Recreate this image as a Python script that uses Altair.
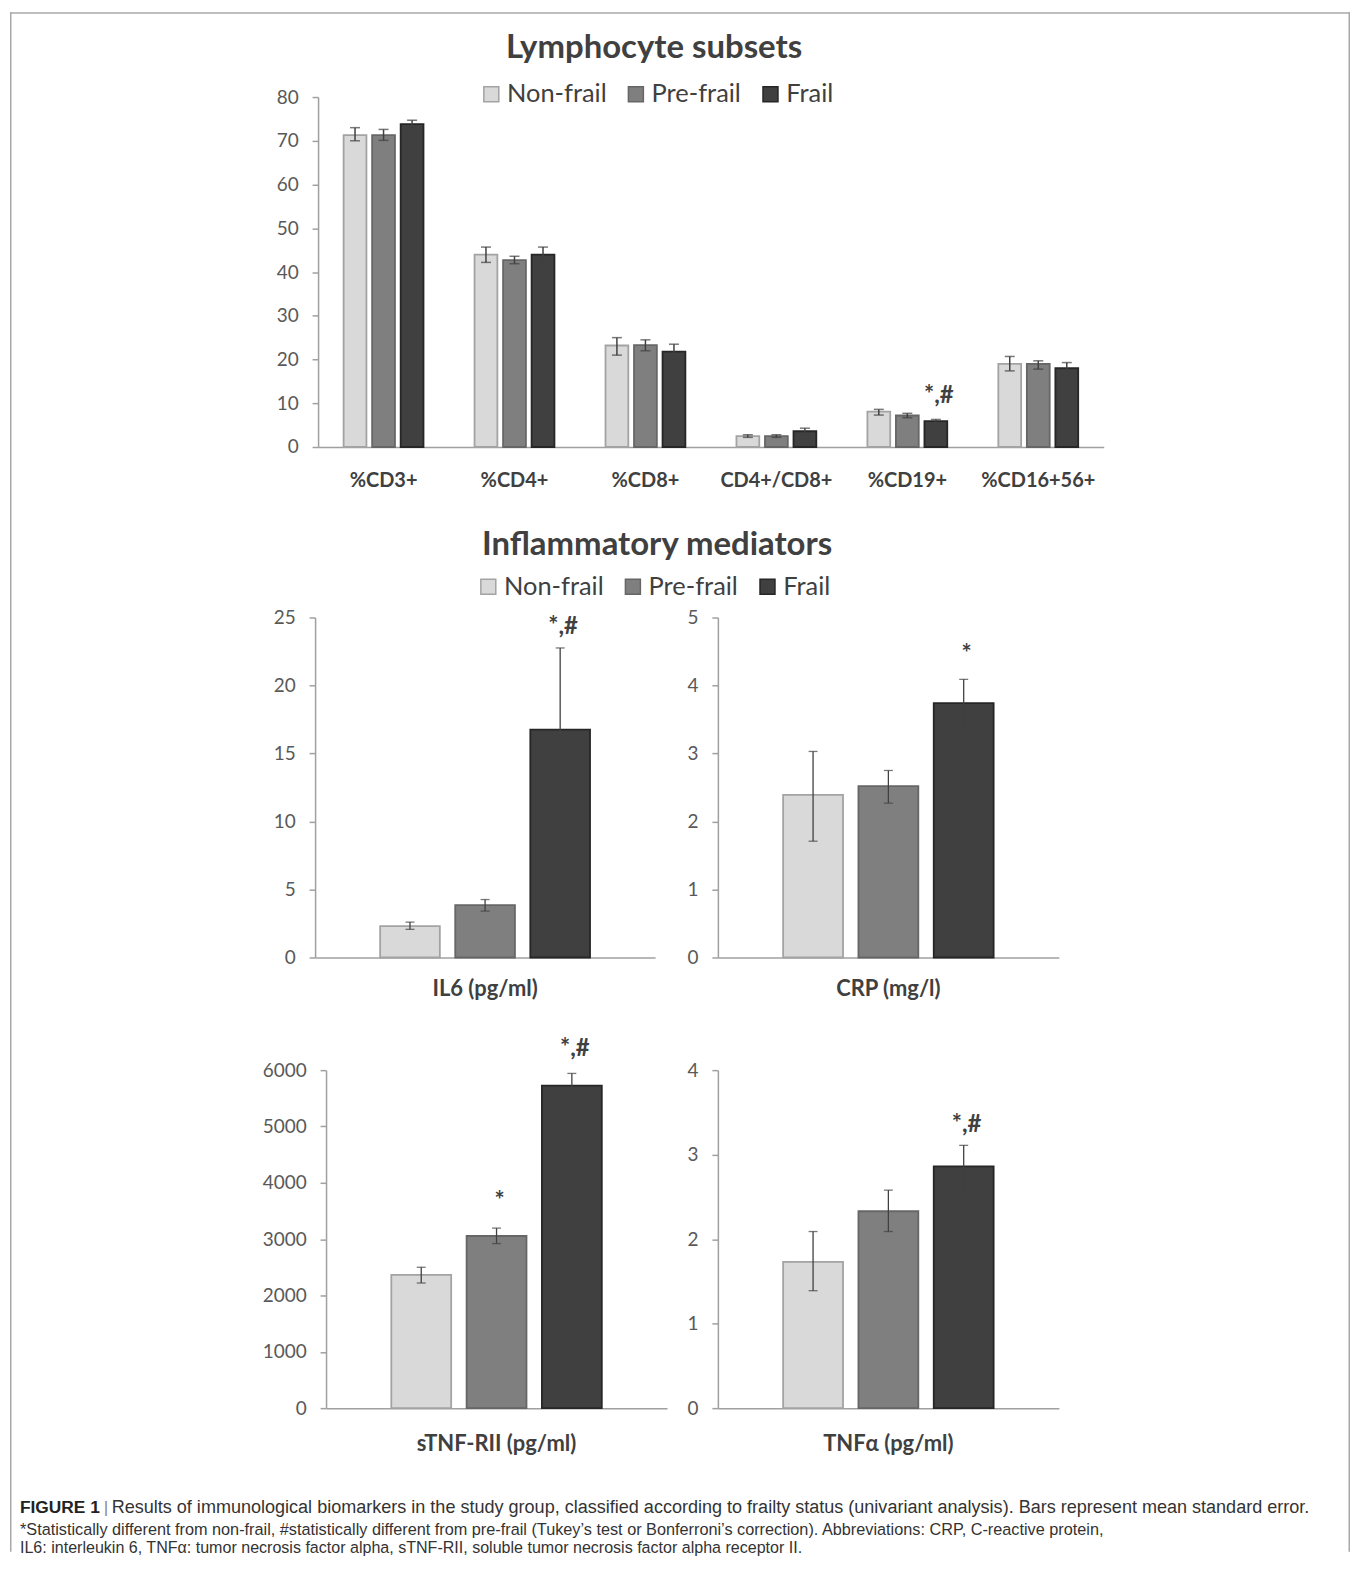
import altair as alt
import pandas as pd

FONT = "Lato"
CAP_FONT = "Liberation Sans"
AXIS_COLOR = "#a0a0a0"
TEXT_DARK = "#404040"
TICK_TEXT = "#595959"

groups = ["Non-frail", "Pre-frail", "Frail"]
fill_colors = ["#d9d9d9", "#7f7f7f", "#404040"]
edge_colors = ["#a3a3a3", "#666666", "#262626"]

# ---------------- Lymphocyte subsets ----------------
lym_title = "Lymphocyte subsets"
lym_cats = ["%CD3+", "%CD4+", "%CD8+", "CD4+/CD8+", "%CD19+", "%CD16+56+"]
lym_nonfrail = [71.3, 44.0, 23.2, 2.5, 8.1, 19.0]
lym_nonfrail_lo = [70.0, 42.2, 21.0, 2.2, 7.3, 17.4]
lym_nonfrail_hi = [73.0, 45.7, 25.0, 2.8, 8.6, 20.7]
lym_prefrail = [71.3, 42.7, 23.3, 2.5, 7.2, 19.0]
lym_prefrail_lo = [70.1, 41.9, 22.0, 2.2, 6.7, 17.8]
lym_prefrail_hi = [72.6, 43.6, 24.5, 2.8, 7.7, 19.7]
lym_frail = [73.8, 44.0, 21.8, 3.6, 5.9, 18.0]
lym_frail_lo = [72.8, 42.2, 20.2, 2.9, 5.3, 16.5]
lym_frail_hi = [74.7, 45.7, 23.5, 4.3, 6.3, 19.3]
lym_ticks = [0, 10, 20, 30, 40, 50, 60, 70, 80]
lym_note_cat = ["%CD19+"]
lym_note_group = ["Frail"]
lym_note_y = [11.6]
lym_note_text = ["*,#"]

# ---------------- Inflammatory mediators ----------------
infl_title = "Inflammatory mediators"
# values ordered Non-frail, Pre-frail, Frail
il6_label = "IL6 (pg/ml)"
il6_mean = [2.31, 3.85, 16.75]
il6_lo = [2.07, 3.41, 10.76]
il6_hi = [2.60, 4.26, 22.76]
il6_ticks = [0, 5, 10, 15, 20, 25]
il6_note_group = ["Frail"]
il6_note_y = [24.3]
il6_note_text = ["*,#"]

crp_label = "CRP (mg/l)"
crp_mean = [2.39, 2.52, 3.74]
crp_lo = [1.71, 2.27, 3.38]
crp_hi = [3.03, 2.75, 4.09]
crp_ticks = [0, 1, 2, 3, 4, 5]
crp_note_group = ["Frail"]
crp_note_y = [4.45]
crp_note_text = ["*"]

stnf_label = "sTNF-RII (pg/ml)"
stnf_mean = [2366, 3056, 5726]
stnf_lo = [2221, 2921, 5533]
stnf_hi = [2501, 3196, 5942]
stnf_ticks = [0, 1000, 2000, 3000, 4000, 5000, 6000]
stnf_note_group = ["Pre-frail", "Frail"]
stnf_note_y = [3663, 6368]
stnf_note_text = ["*", "*,#"]

tnf_label = "TNF\u03b1 (pg/ml)"
tnf_mean = [1.73, 2.33, 2.86]
tnf_lo = [1.39, 2.09, 2.59]
tnf_hi = [2.09, 2.58, 3.11]
tnf_ticks = [0, 1, 2, 3, 4]
tnf_note_group = ["Frail"]
tnf_note_y = [3.35]
tnf_note_text = ["*,#"]

caption_bold = "FIGURE 1"
caption_sep = "|"
caption_lines = [
    "Results of immunological biomarkers in the study group, classified according to frailty status (univariant analysis). Bars represent mean standard error.",
    "*Statistically different from non-frail, #statistically different from pre-frail (Tukey\u2019s test or Bonferroni\u2019s correction). Abbreviations: CRP, C-reactive protein,",
    "IL6: interleukin 6, TNF\u03b1: tumor necrosis factor alpha, sTNF-RII, soluble tumor necrosis factor alpha receptor II.",
]


def lym_frame():
    rows = []
    series = [
        (lym_nonfrail, lym_nonfrail_lo, lym_nonfrail_hi),
        (lym_prefrail, lym_prefrail_lo, lym_prefrail_hi),
        (lym_frail, lym_frail_lo, lym_frail_hi),
    ]
    for ci, c in enumerate(lym_cats):
        for gi, g in enumerate(groups):
            m, lo, hi = series[gi]
            rows.append({"cat": c, "group": g, "mean": m[ci], "lo": lo[ci], "hi": hi[ci]})
    return pd.DataFrame(rows)


def panel_frame(label, mean, lo, hi):
    return pd.DataFrame({"cat": [label] * 3, "group": groups, "mean": mean, "lo": lo, "hi": hi})


def note_frame(cats, grps, ys, texts):
    return pd.DataFrame({"cat": cats, "group": grps, "y": ys, "text": texts})


def spacer(h):
    return alt.Chart(pd.DataFrame({"s": [0]})).mark_point(
        opacity=0, size=0, strokeWidth=0).properties(width=20, height=h)


def panel(df, notes, cats, ymax, ticks, x_range, pad_inner, pad_outer, off_pad,
          label_size, label_pad, cap, rule_w, legend=None):
    xscale = alt.Scale(domain=cats, range=x_range, paddingInner=pad_inner, paddingOuter=pad_outer)
    xaxis = alt.Axis(orient="bottom", labelFont=FONT, labelFontWeight="bold", labelFontSize=label_size,
                     labelColor=TEXT_DARK, ticks=False, domainColor=AXIS_COLOR, domainWidth=1.5,
                     labelPadding=label_pad, labelAngle=0, labelLimit=0, title=None)
    x = alt.X("cat:N", sort=cats, scale=xscale, axis=xaxis, title=None)
    xo = alt.XOffset("group:N", sort=groups,
                     scale=alt.Scale(domain=groups, paddingInner=off_pad, paddingOuter=0))
    yscale = alt.Scale(domain=[0, ymax], nice=False, zero=True)
    yaxis = alt.Axis(orient="left", offset=-x_range[0], values=ticks, format="d",
                     labelFont=FONT, labelFontSize=19, labelColor=TICK_TEXT,
                     domainColor=AXIS_COLOR, domainWidth=1.5, tickColor=AXIS_COLOR, tickWidth=1.5,
                     tickSize=6, labelPadding=14, grid=False, title=None)
    fill = alt.Color("group:N", sort=groups, scale=alt.Scale(domain=groups, range=fill_colors),
                     legend=legend, title=None)
    stroke = alt.Stroke("group:N", sort=groups, scale=alt.Scale(domain=groups, range=edge_colors),
                        legend=legend, title=None)

    bars = alt.Chart(df).mark_bar(strokeWidth=1.8).encode(
        x=x, xOffset=xo,
        y=alt.Y("mean:Q", scale=yscale, axis=yaxis, title=None),
        color=fill, stroke=stroke,
    )
    rules = alt.Chart(df).mark_rule(color=TEXT_DARK, strokeWidth=rule_w).encode(
        x=x, xOffset=xo,
        y=alt.Y("lo:Q", scale=yscale, axis=yaxis, title=None), y2="hi:Q",
    )
    caps_lo = alt.Chart(df).mark_tick(color=TEXT_DARK, thickness=rule_w, size=cap).encode(
        x=x, xOffset=xo, y=alt.Y("lo:Q", scale=yscale, axis=yaxis, title=None),
    )
    caps_hi = alt.Chart(df).mark_tick(color=TEXT_DARK, thickness=rule_w, size=cap).encode(
        x=x, xOffset=xo, y=alt.Y("hi:Q", scale=yscale, axis=yaxis, title=None),
    )
    marks = alt.Chart(notes).mark_text(font=FONT, fontWeight="bold", fontSize=24, color=TEXT_DARK,
                                       dx=3, baseline="middle", align="center").encode(
        x=x, xOffset=xo, y=alt.Y("y:Q", scale=yscale, axis=yaxis, title=None), text="text:N",
    )
    return alt.layer(bars, rules, caps_lo, caps_hi, marks)


def heading(text, hx, hy):
    return alt.Chart(pd.DataFrame({"t": [text]})).mark_text(
        font=FONT, fontWeight="bold", fontSize=33, color=TEXT_DARK,
        align="center", baseline="middle").encode(
        x=alt.value(hx), y=alt.value(hy), text="t:N")


def make_legend(lx, ly):
    return alt.Legend(orient="none", legendX=lx, legendY=ly, direction="horizontal", title=None,
                      labelFont=FONT, labelFontSize=25.5, labelColor=TEXT_DARK, symbolType="square",
                      symbolSize=225, symbolStrokeWidth=1.5, labelOffset=3, columnPadding=16,
                      padding=0, labelLimit=0)


def pair(left, right, head=None):
    layers = [left, right] + ([head] if head is not None else [])
    return alt.layer(*layers).resolve_scale(
        x="independent", y="independent", xOffset="independent"
    ).resolve_axis(x="independent", y="independent")


# row 1: lymphocyte subsets (plot spans x 309..1097 of the figure)
top_panel = panel(
    lym_frame(), note_frame(lym_note_cat, lym_note_group, lym_note_y, lym_note_text),
    lym_cats, 80, lym_ticks, [309, 1097], 0.39, 0.195, 0.2, 20, 24, 10, 1.5,
    legend=make_legend(470, -16),
)
top_row = alt.layer(top_panel, heading(lym_title, 646, -49)).properties(width=1100, height=351)

# row 2: IL6 / CRP
il6 = panel(
    panel_frame(il6_label, il6_mean, il6_lo, il6_hi),
    note_frame([il6_label] * len(il6_note_group), il6_note_group, il6_note_y, il6_note_text),
    [il6_label], 25, il6_ticks, [306, 647], 0, 0.31, 0.205, 22, 21, 9, 1.3,
    legend=make_legend(467, -44),
)
crp = panel(
    panel_frame(crp_label, crp_mean, crp_lo, crp_hi),
    note_frame([crp_label] * len(crp_note_group), crp_note_group, crp_note_y, crp_note_text),
    [crp_label], 5, crp_ticks, [710, 1052], 0, 0.31, 0.205, 22, 21, 9, 1.3,
)
mid_row = pair(il6, crp, heading(infl_title, 649, -73)).properties(width=1055, height=341)

# row 3: sTNF-RII / TNFa
stnf = panel(
    panel_frame(stnf_label, stnf_mean, stnf_lo, stnf_hi),
    note_frame([stnf_label] * len(stnf_note_group), stnf_note_group, stnf_note_y, stnf_note_text),
    [stnf_label], 6000, stnf_ticks, [317, 659], 0, 0.31, 0.205, 22, 25, 9, 1.3,
)
tnf = panel(
    panel_frame(tnf_label, tnf_mean, tnf_lo, tnf_hi),
    note_frame([tnf_label] * len(tnf_note_group), tnf_note_group, tnf_note_y, tnf_note_text),
    [tnf_label], 4, tnf_ticks, [710, 1052], 0, 0.31, 0.205, 22, 25, 9, 1.3,
)
bot_row = pair(stnf, tnf).properties(width=1055, height=339)

# caption + figure frame
cap_layers = []
cap_y = [100, 122, 140]
cap_size = [18.1, 16.3, 16.1]
cap_layers.append(alt.Chart(pd.DataFrame({"t": [caption_bold]})).mark_text(
    align="left", baseline="middle", font=CAP_FONT, fontWeight="bold", fontSize=17.4, color="#222222"
).encode(x=alt.value(10), y=alt.value(cap_y[0]), text="t:N"))
cap_layers.append(alt.Chart(pd.DataFrame({"t": [caption_sep]})).mark_text(
    align="left", baseline="middle", font=CAP_FONT, fontSize=17.4, color="#888888"
).encode(x=alt.value(94), y=alt.value(cap_y[0]), text="t:N"))
cap_x = [102, 10, 10]
for i, line in enumerate(caption_lines):
    cap_layers.append(alt.Chart(pd.DataFrame({"t": [line]})).mark_text(
        align="left", baseline="middle", font=CAP_FONT, fontSize=cap_size[i], color="#333333"
    ).encode(x=alt.value(cap_x[i]), y=alt.value(cap_y[i]), text="t:N"))

frame_src = pd.DataFrame({"s": [0]})
FRAME = "#a8a8a8"
cap_layers.append(alt.Chart(frame_src).mark_rule(color=FRAME, strokeWidth=1.5).encode(
    x=alt.value(0), x2=alt.value(1344), y=alt.value(-1399.25)))
cap_layers.append(alt.Chart(frame_src).mark_rule(color=FRAME, strokeWidth=1.5).encode(
    x=alt.value(0.75), y=alt.value(-1400), y2=alt.value(144)))
cap_layers.append(alt.Chart(frame_src).mark_rule(color=FRAME, strokeWidth=1.5).encode(
    x=alt.value(1343.25), y=alt.value(-1400), y2=alt.value(144)))
caption = alt.layer(*cap_layers).properties(width=1344, height=144)

chart = alt.vconcat(
    spacer(85), top_row, spacer(171), mid_row, spacer(113), bot_row, caption,
    spacing=0, bounds="flush",
).resolve_scale(xOffset="independent").resolve_legend(
    color="independent", stroke="independent"
).properties(padding=0).configure_view(stroke="transparent")

chart.save("out.html", embed_options={"renderer": "svg", "actions": False})
